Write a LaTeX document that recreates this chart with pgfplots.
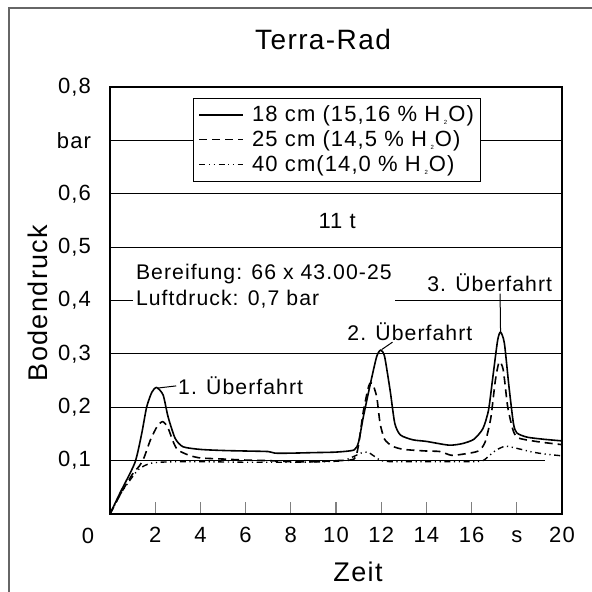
\documentclass[border=0pt]{standalone}
\usepackage{pgfplots}
\pgfplotsset{compat=1.18}
\usepackage{fontspec}
\setmainfont{Liberation Sans}[LetterSpace=5.0]
\newcommand{\lab}{\fontsize{11}{13}\selectfont}
\newcommand{\ann}{\fontsize{10.6}{12.8}\selectfont}
\newcommand{\HO}{H\,\textsubscript{\fontsize{3}{3}\selectfont 2}O}

\pgfplotstableread{
x y
0 0
0.45 0.04
1.1 0.096
1.4 0.15
1.62 0.2
1.85 0.228
2.06 0.237
2.35 0.223
2.57 0.182
2.88 0.142
3.23 0.126
4 0.121
5 0.119
6 0.118
7 0.117
7.3 0.114
8 0.114
9 0.115
10 0.116
10.8 0.12
11.0 0.135
11.2 0.18
11.5 0.24
11.8 0.295
11.98 0.307
12.15 0.295
12.4 0.23
12.6 0.17
12.85 0.148
13.4 0.139
14 0.136
15 0.129
15.6 0.132
16.1 0.14
16.5 0.16
16.75 0.195
16.95 0.26
17.15 0.325
17.28 0.341
17.45 0.32
17.65 0.24
17.85 0.17
18.0 0.152
18.45 0.144
19.2 0.14
20 0.137
}\seriesA

\pgfplotstableread{
x y
0 0
0.5 0.04
1.0 0.075
1.3 0.09
1.5 0.105
1.8 0.14
2.1 0.165
2.33 0.173
2.55 0.163
2.8 0.135
3.0 0.12
3.5 0.11
4 0.105
5 0.103
6 0.101
7 0.1
8 0.098
9 0.098
10 0.1
10.8 0.103
11.0 0.13
11.2 0.19
11.45 0.24
11.6 0.245
11.8 0.22
11.95 0.17
12.15 0.14
12.5 0.127
13 0.121
14 0.118
14.6 0.117
15.1 0.11
15.6 0.112
16.3 0.118
16.6 0.135
16.85 0.18
17.05 0.25
17.22 0.285
17.4 0.27
17.6 0.2
17.85 0.155
18.1 0.142
19 0.135
20 0.13
}\seriesB

\pgfplotstableread{
x y
0 0
0.5 0.04
1.0 0.07
1.25 0.083
1.5 0.09
1.8 0.095
2.2 0.097
3 0.098
4 0.098
6 0.097
8 0.097
9.5 0.098
10.3 0.1
10.8 0.108
11.1 0.114
11.4 0.116
11.7 0.108
12.0 0.1
12.5 0.098
14 0.098
16 0.098
16.5 0.1
16.8 0.11
17.1 0.12
17.5 0.127
18.0 0.123
18.7 0.116
19.3 0.112
20 0.109
}\seriesC

\begin{document}
\begin{tikzpicture}
\useasboundingbox (-55pt,-39pt) rectangle (241pt,257pt);
\draw[line width=0.6pt, black!60] (-50.5pt,-39pt) -- (-50.5pt,253pt) -- (241pt,253pt);
\begin{axis}[
  at={(0pt,0pt)}, anchor=south west,
  scale only axis, width=226pt, height=213.5pt,
  xmin=0, xmax=20, ymin=0, ymax=0.8,
  axis line style={line width=0.8pt},
  xtick={2,4,...,20}, xticklabels={2,4,6,8,10,12,14,16,s,20},
  ytick={0.1,0.2,0.3,0.4,0.5,0.6,0.7,0.8},
  yticklabels={{0,1},{0,2},{0,3},{0,4},{0,5},{0,6},bar,{0,8}},
  tick align=inside, xtick pos=bottom, ytick pos=left,
  major tick length=6pt,
  ytick style={draw=none},
  xtick style={line width=0.6pt},
  tick label style={font=\lab},
  yticklabel style={xshift=-6pt},
  xticklabel style={yshift=-3pt, text height=7.9pt, text depth=0pt},
  /pgf/number format/assume math mode=true,
  clip=false,
  legend style={at={(0.1835,0.975)}, anchor=north west, draw=black, line width=0.6pt,
    fill=white, font=\lab, inner sep=2.5pt, row sep=1pt,
    nodes={inner sep=1pt}, cells={anchor=west}},
  legend image code/.code={\draw[#1] (0pt,0pt) -- (22pt,0pt); \path (25pt,0pt);},
]
\draw[line width=0.5pt] (axis cs:0,0.1) -- (axis cs:19.25,0.1);
\draw[line width=0.5pt] (axis cs:0,0.2) -- (axis cs:20,0.2);
\draw[line width=0.5pt] (axis cs:0,0.3) -- (axis cs:20,0.3);
\draw[line width=0.5pt] (axis cs:0,0.4) -- (axis cs:20,0.4);
\draw[line width=0.5pt] (axis cs:0,0.5) -- (axis cs:20,0.5);
\draw[line width=0.5pt] (axis cs:0,0.6) -- (axis cs:20,0.6);
\draw[line width=0.5pt] (axis cs:0,0.7) -- (axis cs:20,0.7);

\addplot[black, line width=0.8pt, smooth, tension=0.4] table {\seriesA};
\addlegendentry{18 cm (15,16 \% \HO)}
\addplot[black, line width=0.8pt, smooth, tension=0.4, dash pattern=on 4pt off 2.5pt] table {\seriesB};
\addlegendentry{25 cm (14,5 \% \HO)}
\addplot[black, line width=0.7pt, smooth, tension=0.4, dash pattern=on 3pt off 1.8pt on 0.6pt off 1.8pt on 0.6pt off 1.8pt] table {\seriesC};
\addlegendentry{40 cm(14,0 \% \HO)}

\node[font=\lab] at (axis cs:10.05,0.548) {11 t};
\node[font=\ann, fill=white, align=left, anchor=west, inner sep=1.5pt] at (axis cs:1.0,0.427) {Bereifung: 66 x 43.00-25\\Luftdruck: 0,7 bar};
\node[font=\ann] at (axis cs:16.8,0.433) {3. Überfahrt};
\draw[line width=0.5pt] (axis cs:17.26,0.413) -- (axis cs:17.28,0.343);
\node[font=\ann] at (axis cs:13.27,0.341) {2. Überfahrt};
\draw[line width=0.5pt] (axis cs:12.02,0.308) -- (axis cs:12.5,0.322);
\node[font=\ann, anchor=west, inner sep=0pt] at (axis cs:3.0,0.24) {1. Überfahrt};
\draw[line width=0.5pt] (axis cs:2.12,0.236) -- (axis cs:2.93,0.24);
\end{axis}
\node[font=\lab] at (-11pt,-11pt) {0};
\node[font=\fontsize{13.5}{15}\selectfont, rotate=90] at (-36pt,105.5pt) {Bodendruck};
\node[font=\fontsize{13.5}{15}\selectfont] at (124pt,-29pt) {Zeit};
\node[font=\fontsize{14}{16}\selectfont] at (106.5pt,237pt) {Terra-Rad};
\end{tikzpicture}
\end{document}
